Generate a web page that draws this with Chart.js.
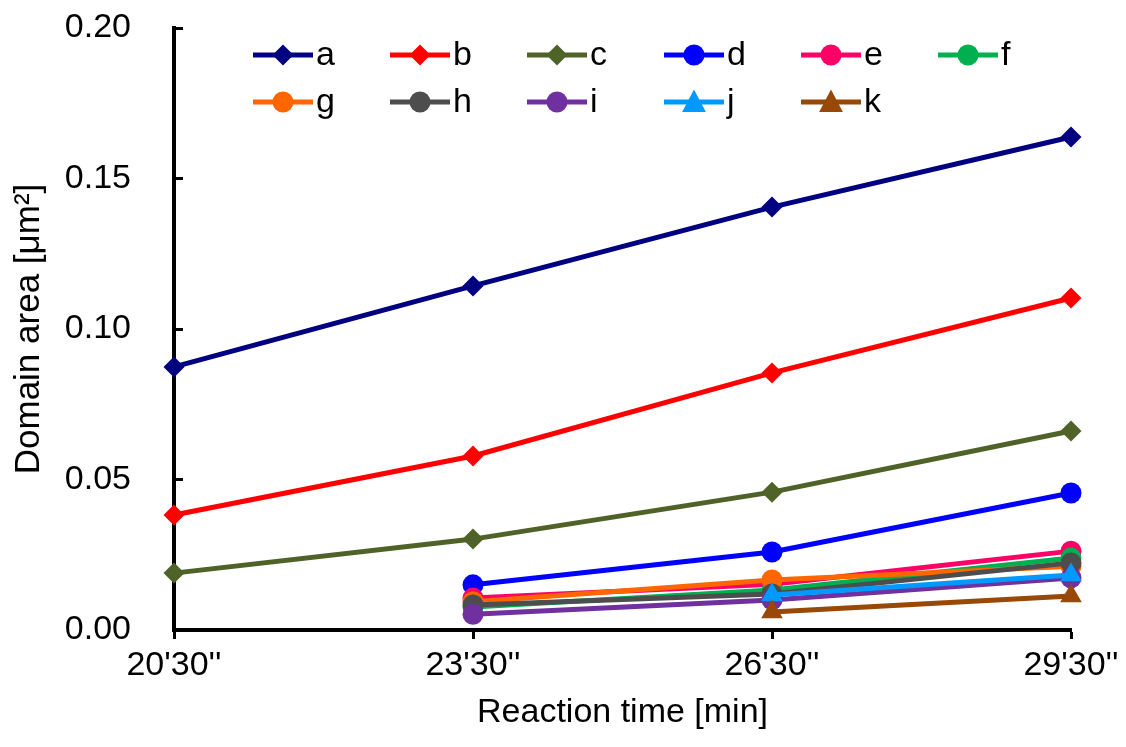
<!DOCTYPE html>
<html>
<head>
<meta charset="utf-8">
<title>Domain area vs reaction time</title>
<script src="https://cdn.jsdelivr.net/npm/chart.js@4.4.1/dist/chart.umd.min.js"></script>
<style>
  body { margin: 0; background: #fff; }
  #wrap { width: 1126px; height: 747px; }
</style>
</head>
<body>
<div id="wrap"><canvas id="areaChart" width="1126" height="747"></canvas></div>
<script>
// data
const timeLabels = ["20'30''", "23'30''", "26'30''", "29'30''"];
const yTicks = [0, 0.05, 0.10, 0.15, 0.20];

const seriesNames = ['a', 'b', 'c', 'd', 'e', 'f', 'g', 'h', 'i', 'j', 'k'];
const areaA = [0.0874, 0.1143, 0.1405, 0.1638];
const areaB = [0.0382, 0.0578, 0.0854, 0.1103];
const areaC = [0.0189, 0.0302, 0.0458, 0.0661];
const areaD = [null, 0.0150, 0.0259, 0.0455];
const areaE = [null, 0.0106, 0.0152, 0.0262];
const areaF = [null, 0.0076, 0.0133, 0.0239];
const areaG = [null, 0.0094, 0.0166, 0.0212];
const areaH = [null, 0.0083, 0.0120, 0.0223];
const areaI = [null, 0.0052, 0.0100, 0.0173];
const areaJ = [null, null, 0.0116, 0.0183];
const areaK = [null, null, 0.0060, 0.0113];

const seriesValues = [areaA, areaB, areaC, areaD, areaE, areaF, areaG, areaH, areaI, areaJ, areaK];
const seriesColors = ['#000080', '#FF0000', '#4F6228', '#0000FF', '#FF0066', '#00B050',
                      '#FF6600', '#4D4D4D', '#7030A0', '#0099FF', '#984807'];
const seriesMarkers = ['rectRot', 'rectRot', 'rectRot', 'circle', 'circle', 'circle',
                       'circle', 'circle', 'circle', 'triangle', 'triangle'];

const FONT = "'Liberation Sans', Arial, sans-serif";
const markerRadius = { rectRot: 10.5, circle: 10.5, triangle: 12.5 };

function drawMarker(ctx, style, x, y, r) {
    ctx.beginPath();
    if (style === 'circle') {
        ctx.arc(x, y, r, 0, Math.PI * 2);
    } else if (style === 'rectRot') {
        ctx.moveTo(x, y - r);
        ctx.lineTo(x + r, y);
        ctx.lineTo(x, y + r);
        ctx.lineTo(x - r, y);
        ctx.closePath();
    } else {
        ctx.moveTo(x, y - r);
        ctx.lineTo(x + r * 0.95, y + r * 0.8);
        ctx.lineTo(x - r * 0.95, y + r * 0.8);
        ctx.closePath();
    }
    ctx.fill();
}

// Excel-style legend inside the plot: 6 entries per row, fixed column pitch
const insideLegend = {
    id: 'insideLegend',
    afterDraw(chart) {
        const ctx = chart.ctx;
        const area = chart.chartArea;
        ctx.save();
        ctx.font = '34px ' + FONT;
        ctx.textBaseline = 'middle';
        ctx.textAlign = 'left';
        chart.data.datasets.forEach((ds, i) => {
            const col = i % 6, row = Math.floor(i / 6);
            const x0 = area.left + 79 + col * 137;
            const y = area.top + 27 + row * 47;
            const color = seriesColors[i];
            ctx.strokeStyle = color;
            ctx.fillStyle = color;
            ctx.lineWidth = 5;
            ctx.beginPath();
            ctx.moveTo(x0, y);
            ctx.lineTo(x0 + 60, y);
            ctx.stroke();
            drawMarker(ctx, seriesMarkers[i], x0 + 30, y, markerRadius[seriesMarkers[i]]);
            ctx.fillStyle = '#000';
            ctx.fillText(ds.label, x0 + 63, y + 1);
        });
        ctx.restore();
    }
};

const datasets = seriesNames.map((name, i) => ({
    label: name,
    data: seriesValues[i],
    borderColor: seriesColors[i],
    backgroundColor: seriesColors[i],
    pointBackgroundColor: seriesColors[i],
    pointBorderColor: seriesColors[i],
    pointStyle: seriesMarkers[i],
    pointRadius: markerRadius[seriesMarkers[i]],
    pointBorderWidth: 0,
    borderWidth: 5,
    tension: 0,
    clip: false,
    order: seriesNames.length - i
}));

new Chart(document.getElementById('areaChart'), {
    type: 'line',
    data: { labels: timeLabels, datasets: datasets },
    options: {
        responsive: false,
        animation: false,
        layout: { padding: { left: 0, top: 28, right: 55, bottom: 0 } },
        plugins: {
            tooltip: { enabled: false },
            legend: { display: false }
        },
        scales: {
            x: {
                type: 'category',
                offset: false,
                afterFit: (s) => { s.height = 117; },
                grid: { drawOnChartArea: false, drawTicks: true, tickLength: 9, tickWidth: 3, tickColor: '#000' },
                border: { display: true, color: '#000', width: 4 },
                ticks: { color: '#000', font: { family: FONT, size: 34 }, padding: 6, maxRotation: 0 },
                title: {
                    display: true,
                    text: 'Reaction time [min]',
                    color: '#000',
                    font: { family: FONT, size: 34 },
                    padding: { top: 0, bottom: 14 }
                }
            },
            y: {
                min: 0,
                max: 0.2,
                afterFit: (s) => {
                    s.width = 174;
                    // the big label gap would otherwise push the plot top down
                    s.paddingTop = 20;
                    s.paddingBottom = 20;
                },
                afterBuildTicks: (s) => { s.ticks = yTicks.map(v => ({ value: v })); },
                grid: { drawOnChartArea: false, drawTicks: true, tickLength: -9, tickWidth: 3, tickColor: '#000' },
                border: { display: true, color: '#000', width: 4 },
                ticks: {
                    color: '#000',
                    font: { family: FONT, size: 34 },
                    padding: 52,
                    callback: (v) => Number(v).toFixed(2)
                },
                title: {
                    display: true,
                    text: 'Domain area [μm²]',
                    color: '#000',
                    font: { family: FONT, size: 35 },
                    padding: { top: 8, bottom: 0 }
                }
            }
        }
    },
    plugins: [insideLegend]
});
</script>
</body>
</html>
